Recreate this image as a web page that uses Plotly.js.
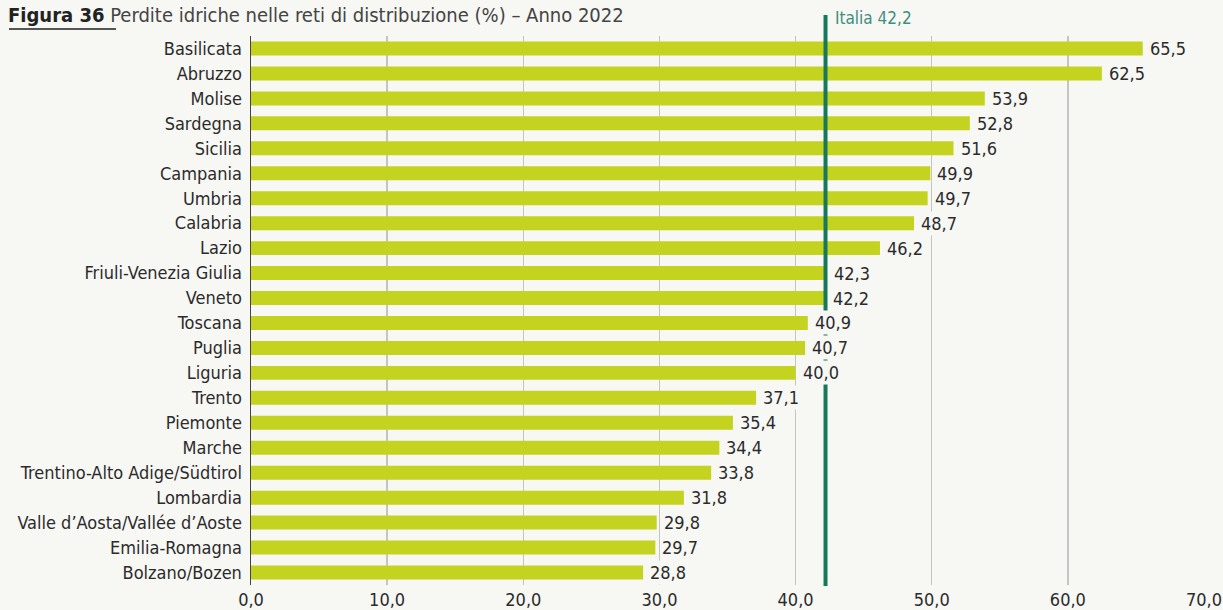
<!DOCTYPE html>
<html>
<head>
<meta charset="utf-8">
<script src="https://cdn.plot.ly/plotly-3.0.1.min.js"></script>
<style>
  html, body { margin: 0; padding: 0; background: #f7f7f4; }
  #chart { width: 1223px; height: 610px; }
</style>
</head>
<body>
<div id="chart"></div>
<script>
// Data
const regions = [
  "Basilicata", "Abruzzo", "Molise", "Sardegna", "Sicilia", "Campania", "Umbria",
  "Calabria", "Lazio", "Friuli-Venezia Giulia", "Veneto", "Toscana", "Puglia",
  "Liguria", "Trento", "Piemonte", "Marche", "Trentino-Alto Adige/Südtirol",
  "Lombardia", "Valle d\u2019Aosta/Vallée d\u2019Aoste", "Emilia-Romagna", "Bolzano/Bozen"
];
const losses = [65.5, 62.5, 53.9, 52.8, 51.6, 49.9, 49.7, 48.7, 46.2, 42.3, 42.2, 40.9, 40.7,
  40.0, 37.1, 35.4, 34.4, 33.8, 31.8, 29.8, 29.7, 28.8];
const italiaValue = 42.2;
const italiaLabel = "Italia 42,2";
const xTicks = [0, 10, 20, 30, 40, 50, 60, 70];
const titleBold = "Figura 36";
const titleText = "Perdite idriche nelle reti di distribuzione (%) \u2013 Anno 2022";

const FONT = '"DejaVu Sans Condensed", "Liberation Sans Narrow", sans-serif';
const BG = '#f7f7f4';

const trace = {
  type: 'bar',
  orientation: 'h',
  y: regions,
  x: losses,
  marker: { color: '#c4d31f', line: { width: 0 } },
  hoverinfo: 'none'
};

// pixel helpers for paper coordinates
const M = { l: 251, r: 19, t: 36, b: 25 };
const W = 1223, H = 610;
const pw = W - M.l - M.r, ph = H - M.t - M.b;
const px2x = p => (p - M.l) / pw;
const py2y = p => 1 - (p - M.t) / ph;

// value labels (with background so that they mask the Italia line, as in the original)
const valueLabels = regions.map((r, i) => ({
  xref: 'x', yref: 'y',
  x: losses[i], y: r,
  xanchor: 'left', yanchor: 'middle', xshift: 5,
  text: losses[i].toFixed(1).replace('.', ','),
  showarrow: false,
  bgcolor: BG, borderpad: 1,
  font: { family: FONT, size: 18, color: '#2b2b2b' }
}));

const layout = {
  width: W, height: H,
  margin: M,
  paper_bgcolor: BG,
  plot_bgcolor: BG,
  separators: ',.',
  showlegend: false,
  bargap: 0.44,
  font: { family: FONT, size: 18, color: '#2b2b2b' },
  xaxis: {
    range: [0, 70],
    tickvals: xTicks,
    tickformat: '.1f',
    showgrid: true,
    gridcolor: '#c4c4c4',
    gridwidth: 1.5,
    zeroline: false,
    showline: false,
    ticks: '',
    ticklabelstandoff: 2,
    tickfont: { family: FONT, size: 18, color: '#2b2b2b' },
    fixedrange: true
  },
  yaxis: {
    type: 'category',
    autorange: 'reversed',
    showline: true,
    linecolor: '#444',
    linewidth: 1.5,
    showgrid: false,
    ticks: '',
    ticklabelstandoff: 4,
    tickfont: { family: FONT, size: 18, color: '#2b2b2b' },
    fixedrange: true
  },
  shapes: [
    {
      type: 'line', xref: 'x', yref: 'paper',
      x0: italiaValue, x1: italiaValue,
      y0: py2y(586), y1: py2y(15),
      line: { color: '#17785a', width: 4 },
      layer: 'above'
    },
    {
      type: 'line', xref: 'paper', yref: 'paper',
      x0: px2x(9), x1: px2x(116),
      y0: py2y(29), y1: py2y(29),
      line: { color: '#555', width: 2 }
    }
  ],
  annotations: valueLabels.concat([
    {
      xref: 'x', yref: 'paper',
      x: italiaValue, y: py2y(18),
      xanchor: 'left', yanchor: 'middle', xshift: 7,
      text: italiaLabel, showarrow: false,
      font: { family: FONT, size: 17, color: '#3f8f7d' }
    },
    {
      xref: 'paper', yref: 'paper',
      x: px2x(7), y: py2y(28),
      xanchor: 'left', yanchor: 'bottom',
      text: '<b>' + titleBold + '</b> <span style="color:#444">' + titleText + '</span>',
      showarrow: false, borderpad: 0,
      font: { family: FONT, size: 20, color: '#222' }
    }
  ])
};

Plotly.newPlot('chart', [trace], layout, { staticPlot: true, displayModeBar: false });
</script>
</body>
</html>
